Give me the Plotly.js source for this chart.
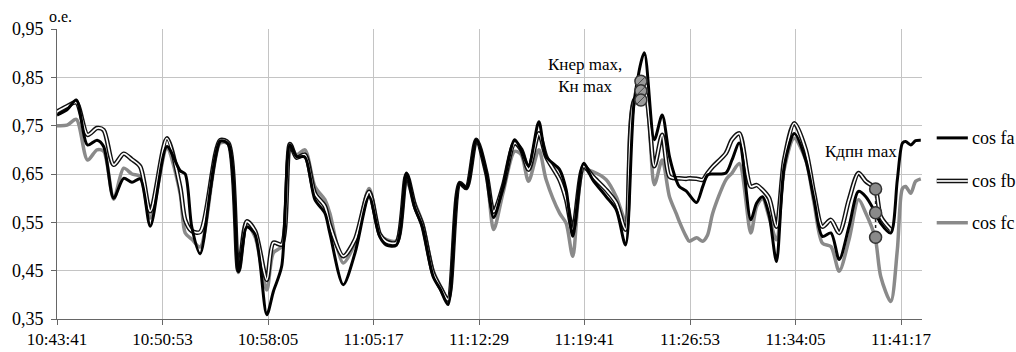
<!DOCTYPE html>
<html>
<head>
<meta charset="utf-8">
<script src="https://cdn.plot.ly/plotly-3.0.1.min.js"></script>
<style>html,body{margin:0;padding:0;background:#fff;}#chart{width:1016px;height:352px;}</style>
</head>
<body>
<div id="chart"></div>
<script>
const times = [
 '10:43:41','10:44:22','10:45:00','10:45:46','10:46:25','10:46:52','10:47:33','10:48:14','10:48:48','10:49:22',
 '10:50:03','10:51:11','10:52:05','10:52:26','10:52:53','10:53:27','10:54:49','10:55:23','10:56:04','10:56:38',
 '10:57:12','10:58:00','10:58:27','10:59:01','10:59:35','11:00:02','11:00:36','11:01:17','11:01:58','11:02:18',
 '11:03:13','11:04:01','11:04:59','11:05:43','11:06:10','11:06:51','11:07:32','11:08:06','11:08:37','11:09:21',
 '11:09:51','11:10:22','11:11:10','11:11:37','11:12:18','11:12:59','11:13:29','11:14:07','11:14:55','11:15:22',
 '11:15:52','11:16:34','11:17:04','11:17:59','11:18:26','11:18:53','11:19:37','11:20:15','11:21:10','11:21:51',
 '11:22:29','11:23:05','11:23:46','11:24:27','11:24:59','11:25:29','11:25:56','11:26:09','11:26:37','11:26:50',
 '11:27:20','11:27:45','11:28:05','11:28:26','11:29:20','11:29:45','11:30:15','11:31:02','11:31:26','11:31:50',
 '11:32:17','11:32:47','11:33:19','11:34:00','11:34:47','11:35:21','11:35:55','11:36:30','11:37:04','11:37:44',
 '11:38:23','11:38:53','11:39:31','11:39:54','11:40:35','11:41:02','11:41:23','11:41:36','11:41:57','11:42:17',
 '11:42:38'
];
const cosFa = [
 0.772,0.783,0.803,0.710,0.720,0.707,0.600,0.641,0.633,0.640,
 0.542,0.707,0.657,0.650,0.540,0.485,0.718,0.712,0.448,0.540,
 0.525,0.359,0.407,0.459,0.710,0.686,0.685,0.597,0.569,0.528,
 0.421,0.486,0.603,0.520,0.503,0.503,0.652,0.580,0.541,0.438,
 0.411,0.380,0.631,0.621,0.721,0.652,0.560,0.624,0.721,0.700,
 0.666,0.758,0.686,0.659,0.617,0.521,0.672,0.638,0.603,0.576,
 0.503,0.803,0.901,0.721,0.772,0.686,0.638,0.624,0.615,0.607,
 0.591,0.624,0.648,0.650,0.652,0.679,0.714,0.555,0.590,0.603,
 0.565,0.469,0.666,0.734,0.679,0.597,0.521,0.528,0.473,0.541,
 0.614,0.603,0.571,0.548,0.528,0.638,0.714,0.717,0.710,0.719,
 0.720
];
const cosFb = [
 0.779,0.790,0.798,0.731,0.745,0.741,0.669,0.692,0.680,0.665,
 0.573,0.724,0.624,0.555,0.532,0.530,0.720,0.714,0.450,0.552,
 0.532,0.431,0.508,0.504,0.712,0.684,0.690,0.610,0.583,0.545,
 0.480,0.514,0.613,0.525,0.510,0.508,0.649,0.585,0.545,0.445,
 0.415,0.390,0.631,0.621,0.721,0.652,0.572,0.624,0.714,0.700,
 0.659,0.734,0.686,0.638,0.597,0.535,0.666,0.645,0.617,0.590,
 0.535,0.803,0.821,0.666,0.731,0.645,0.641,0.641,0.640,0.641,
 0.640,0.638,0.652,0.665,0.693,0.721,0.734,0.624,0.627,0.617,
 0.600,0.541,0.680,0.755,0.700,0.610,0.541,0.555,0.528,0.597,
 0.652,0.635,0.620,0.562,0.535,null,null,null,null,null,
 null
];
const cosFc = [
 0.750,0.751,0.763,0.679,0.700,0.697,0.598,0.662,0.650,0.645,
 0.559,0.703,0.610,0.528,0.515,0.499,0.714,0.712,0.446,0.545,
 0.520,0.410,0.487,0.500,0.708,0.690,0.700,0.624,0.597,0.569,
 0.466,0.507,0.620,0.525,0.514,0.512,0.635,0.590,0.550,0.450,
 0.418,0.393,0.631,0.621,0.721,0.652,0.535,0.610,0.697,0.690,
 0.635,0.700,0.638,0.569,0.548,0.480,0.659,0.655,0.638,0.603,
 0.555,0.803,0.810,0.628,0.679,0.603,0.569,0.552,0.521,0.511,
 0.518,0.511,0.524,0.569,0.638,0.652,0.672,0.528,0.583,0.600,
 0.560,0.514,0.660,0.724,0.679,0.590,0.507,0.500,0.449,0.514,
 0.597,0.569,0.519,0.438,0.386,0.493,0.620,0.624,0.610,0.635,
 0.640
];
const seriesNames = ['cos fa','cos fb','cos fc'];
const kNerTime = '11:23:32';
const kNerValues = [0.842, 0.822, 0.803];
const kDpnTime = '11:39:33';
const kDpnValues = [0.619, 0.570, 0.519];
const startTime = '10:43:41';
const endTime = '11:42:43';
const yTicks = [0.35, 0.45, 0.55, 0.65, 0.75, 0.85, 0.95];

const D = t => '2000-01-01 ' + t;
const xDates = times.map(D);
const SERIF = 'Liberation Serif';

const traces = [
  {x: xDates, y: cosFc, mode: 'lines', line: {color: '#8a8a8a', width: 3.5, shape: 'spline', smoothing: 0.8}, showlegend: false},
  {x: xDates, y: cosFb, mode: 'lines', line: {color: '#111', width: 4.6, shape: 'spline', smoothing: 0.8}, showlegend: false},
  {x: xDates, y: cosFb, mode: 'lines', line: {color: '#fff', width: 1.7, shape: 'spline', smoothing: 0.8}, showlegend: false},
  {x: xDates, y: cosFa, mode: 'lines', line: {color: '#000', width: 3, shape: 'spline', smoothing: 0.8}, showlegend: false},
  {x: kNerValues.map(() => D(kNerTime)), y: kNerValues, mode: 'markers',
   marker: {size: 12, color: '#9a9a9a', line: {color: '#333', width: 1.5}}, showlegend: false},
  {x: kNerValues.map(() => D(kNerTime)), y: kNerValues, mode: 'markers',
   marker: {size: 9, symbol: 'line-ne', color: '#444', line: {color: '#444', width: 1}}, showlegend: false},
  {x: kDpnValues.map(() => D(kDpnTime)), y: kDpnValues, mode: 'lines+markers',
   line: {color: '#222', width: 1.5, dash: 'dot'},
   marker: {size: 12, color: '#8a8a8a', line: {color: '#333', width: 1.5}}, showlegend: false}
];

const legY = [0.6245, 0.476, 0.332];
const shapes = [
  {type: 'line', xref: 'paper', yref: 'paper', x0: 1.017, x1: 1.053, y0: legY[0], y1: legY[0], line: {color: '#000', width: 3}},
  {type: 'line', xref: 'paper', yref: 'paper', x0: 1.017, x1: 1.053, y0: legY[1], y1: legY[1], line: {color: '#111', width: 4.6}},
  {type: 'line', xref: 'paper', yref: 'paper', x0: 1.017, x1: 1.053, y0: legY[1], y1: legY[1], line: {color: '#fff', width: 1.7}},
  {type: 'line', xref: 'paper', yref: 'paper', x0: 1.017, x1: 1.053, y0: legY[2], y1: legY[2], line: {color: '#8a8a8a', width: 3.5}}
];
const annotations = seriesNames.map((n, i) => ({
  xref: 'paper', yref: 'paper', x: 1.055, y: legY[i], xanchor: 'left', yanchor: 'middle',
  text: n, showarrow: false, font: {family: SERIF, size: 18, color: '#000'}
}));
annotations.push(
  {xref: 'paper', yref: 'paper', x: -0.012, y: 1.043, xanchor: 'left', yanchor: 'middle',
   text: 'о.е.', showarrow: false, font: {family: SERIF, size: 16, color: '#000'}},
  {xref: 'paper', yref: 'paper', x: 0.6104, y: 0.838, xanchor: 'center', yanchor: 'middle', align: 'center',
   text: 'Кнер max,<br>Кн max', showarrow: false, font: {family: SERIF, size: 17, color: '#000'}},
  {xref: 'paper', yref: 'paper', x: 0.9295, y: 0.576, xanchor: 'center', yanchor: 'middle',
   text: 'Кдпн max', showarrow: false, font: {family: SERIF, size: 17, color: '#000'}}
);

const layout = {
  width: 1016, height: 352,
  margin: {l: 57, r: 94, t: 29, b: 33, pad: 0},
  paper_bgcolor: '#fff', plot_bgcolor: '#fff',
  separators: ', ',
  showlegend: false,
  font: {family: SERIF, size: 16, color: '#000'},
  xaxis: {
    type: 'date', range: [D(startTime), D(endTime)],
    tick0: D(startTime), dtick: 432000, tickformat: '%H:%M:%S',
    showgrid: true, gridcolor: '#c4c4c4', gridwidth: 1,
    showline: true, linecolor: '#666', linewidth: 1,
    ticks: 'outside', ticklen: 5, tickcolor: '#666',
    tickfont: {family: SERIF, size: 17, color: '#000'},
    zeroline: false, fixedrange: true
  },
  yaxis: {
    range: [0.35, 0.95], tickvals: yTicks, tickformat: '.2f',
    showgrid: true, gridcolor: '#c4c4c4', gridwidth: 1,
    showline: true, linecolor: '#666', linewidth: 1,
    ticks: 'outside', ticklen: 5, tickcolor: '#666',
    ticklabelstandoff: 4,
    tickfont: {family: SERIF, size: 18, color: '#000'},
    zeroline: false, fixedrange: true
  },
  shapes: shapes,
  annotations: annotations
};

Plotly.newPlot('chart', traces, layout, {displayModeBar: false, staticPlot: true});
</script>
</body>
</html>
